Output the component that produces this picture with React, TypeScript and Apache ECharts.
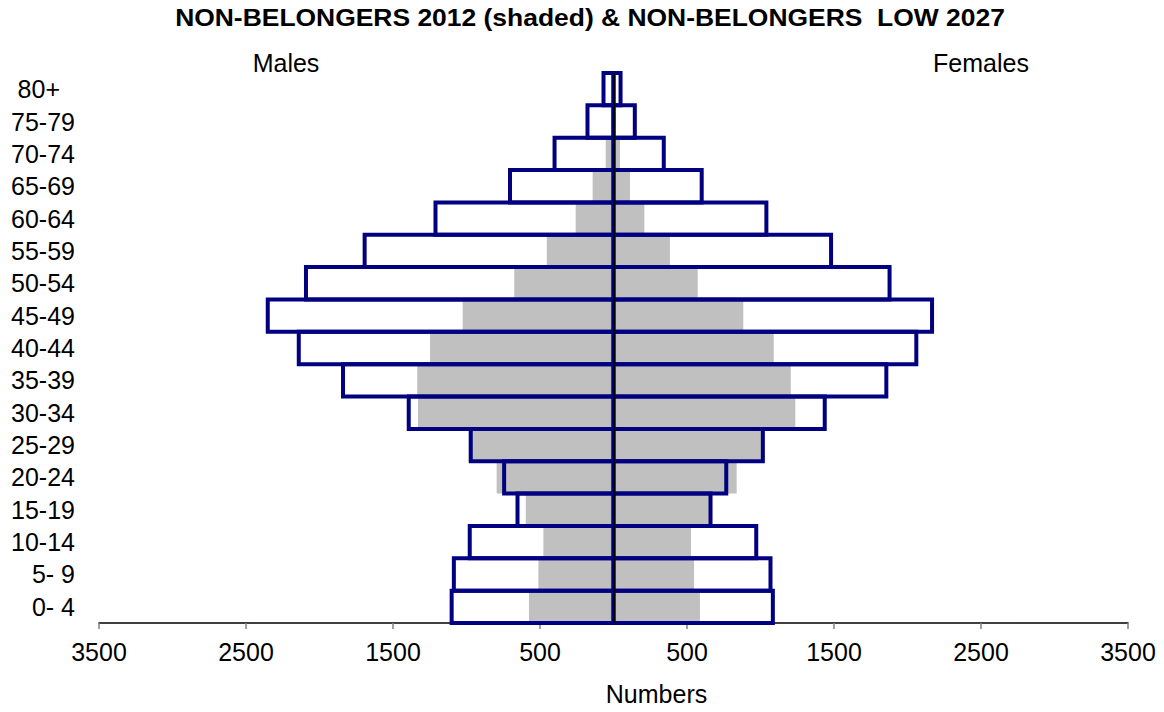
import React, { useEffect, useRef } from "react";
import * as echarts from "echarts";

const ageGroups = ["0- 4", "5- 9", "10-14", "15-19", "20-24", "25-29", "30-34", "35-39", "40-44", "45-49", "50-54", "55-59", "60-64", "65-69", "70-74", "75-79", "80+"];
const males2012 = [575, 511, 477, 597, 795, 985, 1330, 1335, 1248, 1026, 675, 454, 257, 142, 53, 15, 8];
const females2012 = [588, 548, 527, 655, 838, 1005, 1237, 1206, 1090, 883, 573, 384, 210, 112, 44, 15, 8];
const males2027 = [1101, 1086, 978, 653, 744, 971, 1393, 1840, 2141, 2352, 2092, 1693, 1211, 704, 401, 177, 68];
const females2027 = [1084, 1068, 971, 660, 767, 1016, 1437, 1856, 2060, 2167, 1878, 1480, 1040, 600, 342, 145, 48];

const titleText = "NON-BELONGERS 2012 (shaded) & NON-BELONGERS  LOW 2027";
const FONT = "'Liberation Sans', Arial, sans-serif";

function outlineRenderItem(params: any, api: any) {
  const cat = api.value(1);
  const start = api.coord([0, cat]);
  const end = api.coord([api.value(0), cat]);
  const h = api.size([0, 1])[1];
  return {
    type: "rect",
    shape: {
      x: Math.min(start[0], end[0]),
      y: start[1] - h / 2,
      width: Math.abs(end[0] - start[0]),
      height: h,
    },
    style: { fill: "none", stroke: "#000080", lineWidth: 4 },
  };
}

export default function App() {
  const ref = useRef<HTMLDivElement>(null);
  useEffect(() => {
    if (!ref.current) return;
    const chart = echarts.init(ref.current, null, { renderer: "svg" });
    chart.setOption({
      animation: false,
      backgroundColor: "#ffffff",
      textStyle: { fontFamily: FONT },
      grid: { left: 99, right: 36, top: 73, bottom: 89 },
      graphic: [
        {
          type: "text",
          x: 590,
          y: 18,
          scaleX: 1.15,
          style: {
            text: titleText,
            font: `bold 23px ${FONT}`,
            fill: "#000",
            textAlign: "center",
            textVerticalAlign: "middle",
          },
        },
        {
          type: "text",
          x: 286,
          y: 63,
          style: { text: "Males", font: `25px ${FONT}`, fill: "#000", textAlign: "center", textVerticalAlign: "middle" },
        },
        {
          type: "text",
          x: 981,
          y: 63,
          style: { text: "Females", font: `25px ${FONT}`, fill: "#000", textAlign: "center", textVerticalAlign: "middle" },
        },
      ],
      xAxis: {
        type: "value",
        min: -3500,
        max: 3500,
        interval: 1000,
        splitLine: { show: false },
        axisLine: { show: true, lineStyle: { color: "#000", width: 1.5 } },
        axisTick: { show: true, length: 6, lineStyle: { color: "#808080", width: 1.5 } },
        axisLabel: {
          color: "#000",
          fontSize: 25,
          fontFamily: FONT,
          margin: 16,
          formatter: (v: number) => String(Math.abs(v)),
        },
        name: "Numbers",
        nameLocation: "middle",
        nameGap: 58,
        nameTextStyle: { color: "#000", fontSize: 25, fontFamily: FONT, padding: [0, 0, 0, 86] },
      },
      yAxis: {
        type: "category",
        data: ageGroups,
        axisLine: { show: false, onZero: false },
        axisTick: { show: false },
        axisLabel: {
          interval: 0,
          color: "#000",
          fontSize: 25,
          fontFamily: FONT,
          margin: 24,
          formatter: (v: string) => (v === "80+" ? `{p|${v}}` : v),
          rich: { p: { fontSize: 25, fontFamily: FONT, color: "#000", padding: [0, 15, 0, 0] } },
        },
      },
      series: [
        {
          name: "Males 2012",
          type: "bar",
          data: males2012.map((v) => -v),
          barGap: "-100%",
          barCategoryGap: 0,
          itemStyle: { color: "#c0c0c0" },
          z: 1,
        },
        {
          name: "Females 2012",
          type: "bar",
          data: females2012,
          barGap: "-100%",
          barCategoryGap: 0,
          itemStyle: { color: "#c0c0c0" },
          z: 1,
        },
        {
          name: "Males 2027",
          type: "custom",
          renderItem: outlineRenderItem,
          encode: { x: 0, y: 1 },
          data: males2027.map((v, i) => [-v, i]),
          z: 2,
        },
        {
          name: "Females 2027",
          type: "custom",
          renderItem: outlineRenderItem,
          encode: { x: 0, y: 1 },
          data: females2027.map((v, i) => [v, i]),
          z: 2,
        },
        {
          name: "Centre",
          type: "bar",
          data: [],
          z: 3,
          markLine: {
            silent: true,
            symbol: "none",
            label: { show: false },
            lineStyle: { color: "#000", width: 2, type: "solid" },
            data: [{ xAxis: 0 }],
          },
        },
      ],
    });
    return () => chart.dispose();
  }, []);
  return <div ref={ref} style={{ position: "fixed", left: 0, top: 0, width: 1164, height: 712 }} />;
}
